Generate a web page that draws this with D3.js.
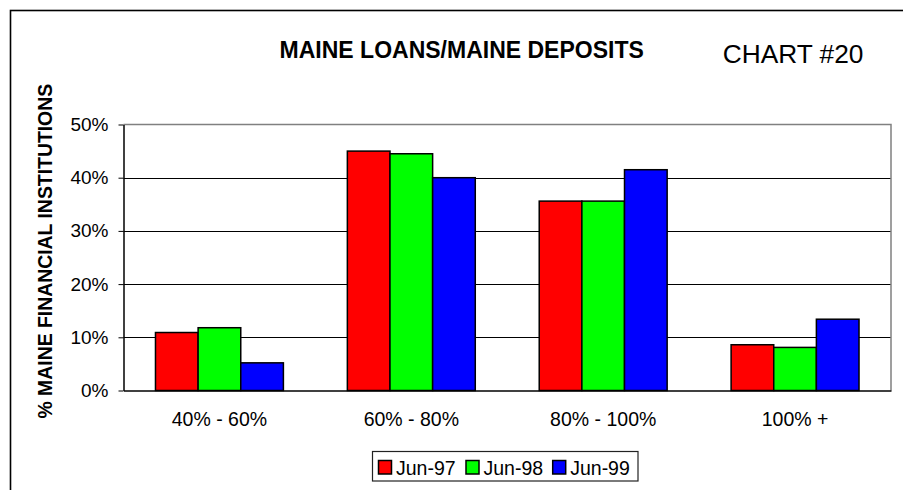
<!DOCTYPE html>
<html>
<head>
<meta charset="utf-8">
<script src="https://cdn.jsdelivr.net/npm/d3@7/dist/d3.min.js"></script>
<style>
  html, body { margin: 0; padding: 0; background: #fff; }
  svg { display: block; }
  text { font-family: Arial, "Liberation Sans", sans-serif; fill: #000; }
</style>
</head>
<body>
<svg id="chart" width="903" height="490"></svg>
<script>
// ---- data ----
const categories = ["40% - 60%", "60% - 80%", "80% - 100%", "100% +"];
const seriesNames = ["Jun-97", "Jun-98", "Jun-99"];
const jun97 = [10.9, 45.0, 35.6, 8.6];
const jun98 = [11.8, 44.5, 35.6, 8.1];
const jun99 = [5.2, 40.0, 41.5, 13.4];
const yTicks = [0, 10, 20, 30, 40, 50];
const seriesColors = ["#ff0000", "#00ff00", "#0000ff"];
const titleText = "MAINE LOANS/MAINE DEPOSITS";
const chartNo = "CHART #20";
const yTitle = "% MAINE FINANCIAL INSTITUTIONS";

const seriesValues = [jun97, jun98, jun99];

const svg = d3.select("#chart");

// outer frame (extends past right/bottom edges)
svg.append("rect")
  .attr("x", 10.5).attr("y", 10.5)
  .attr("width", 1000).attr("height", 1000)
  .attr("fill", "none").attr("stroke", "#000").attr("stroke-width", 1.6);

const plot = { left: 123.5, right: 891, top: 124.5, bottom: 390.5 };

const y = d3.scaleLinear().domain([0, 50]).range([plot.bottom, plot.top]);
const x0 = d3.scaleBand().domain(categories).range([plot.left, plot.right]).paddingInner(0).paddingOuter(0);
const x1 = d3.scaleBand().domain(seriesNames).range([0, x0.bandwidth()]).paddingInner(0).paddingOuter(0.75);

// gridlines
svg.append("g").selectAll("line")
  .data(yTicks.filter(t => t > 0 && t < 50))
  .join("line")
  .attr("x1", plot.left).attr("x2", plot.right)
  .attr("y1", d => Math.round(y(d)) + 0.5).attr("y2", d => Math.round(y(d)) + 0.5)
  .attr("stroke", "#000").attr("stroke-width", 1);

// plot border top/right (gray)
svg.append("path")
  .attr("d", `M${plot.left},${plot.top}H${plot.right}V${plot.bottom}`)
  .attr("fill", "none").attr("stroke", "#808080").attr("stroke-width", 1.5);

// bars
const groups = svg.append("g").selectAll("g")
  .data(categories)
  .join("g")
  .attr("transform", d => `translate(${x0(d)},0)`);

groups.selectAll("rect")
  .data((c, i) => seriesNames.map((s, j) => ({ s, v: seriesValues[j][i], j })))
  .join("rect")
  .attr("x", d => x1(d.s))
  .attr("width", x1.bandwidth())
  .attr("y", d => y(d.v))
  .attr("height", d => y(0) - y(d.v))
  .attr("fill", d => seriesColors[d.j])
  .attr("stroke", "#000").attr("stroke-width", 1.5);

// y axis
const yAxis = svg.append("g")
  .attr("transform", `translate(${plot.left},0)`)
  .call(d3.axisLeft(y).tickValues(yTicks).tickFormat(d => d + "%").tickSize(5).tickSizeOuter(0).tickPadding(10));
yAxis.select(".domain").attr("stroke", "#000").attr("stroke-width", 1.5);
yAxis.selectAll(".tick line").attr("stroke", "#000").attr("stroke-width", 1);
yAxis.selectAll("text").attr("font-size", 19).attr("font-family", "Arial, 'Liberation Sans', sans-serif").attr("fill", "#000");

// x axis
const xAxis = svg.append("g")
  .attr("transform", `translate(0,${plot.bottom})`)
  .call(d3.axisBottom(x0).tickSize(0).tickSizeOuter(0).tickPadding(21.5));
xAxis.select(".domain").attr("stroke", "#000").attr("stroke-width", 1.5);
xAxis.selectAll("text").attr("font-size", 19.5).attr("font-family", "Arial, 'Liberation Sans', sans-serif").attr("fill", "#000");

// titles
svg.append("text")
  .attr("x", 461.7).attr("y", 57.5)
  .attr("text-anchor", "middle")
  .attr("font-weight", "bold").attr("font-size", 23)
  .text(titleText);

svg.append("text")
  .attr("x", 722.7).attr("y", 62.7)
  .attr("font-size", 26.3)
  .text(chartNo);

svg.append("text")
  .attr("transform", "translate(52.3,251.2) rotate(-90)")
  .attr("text-anchor", "middle")
  .attr("font-weight", "bold").attr("font-size", 19.4)
  .text(yTitle);

// legend
const legend = svg.append("g");
legend.append("rect")
  .attr("x", 372.5).attr("y", 451.5).attr("width", 265.5).attr("height", 29.5)
  .attr("fill", "#fff").attr("stroke", "#222").attr("stroke-width", 1.2);

const legX = [378.5, 466, 552.7];
seriesNames.forEach((s, j) => {
  legend.append("rect")
    .attr("x", legX[j]).attr("y", 460.5).attr("width", 13).attr("height", 13.5)
    .attr("fill", seriesColors[j]).attr("stroke", "#000").attr("stroke-width", 1.5);
  legend.append("text")
    .attr("x", legX[j] + 17.5).attr("y", 475)
    .attr("font-size", 19.5)
    .text(s);
});
</script>
</body>
</html>
